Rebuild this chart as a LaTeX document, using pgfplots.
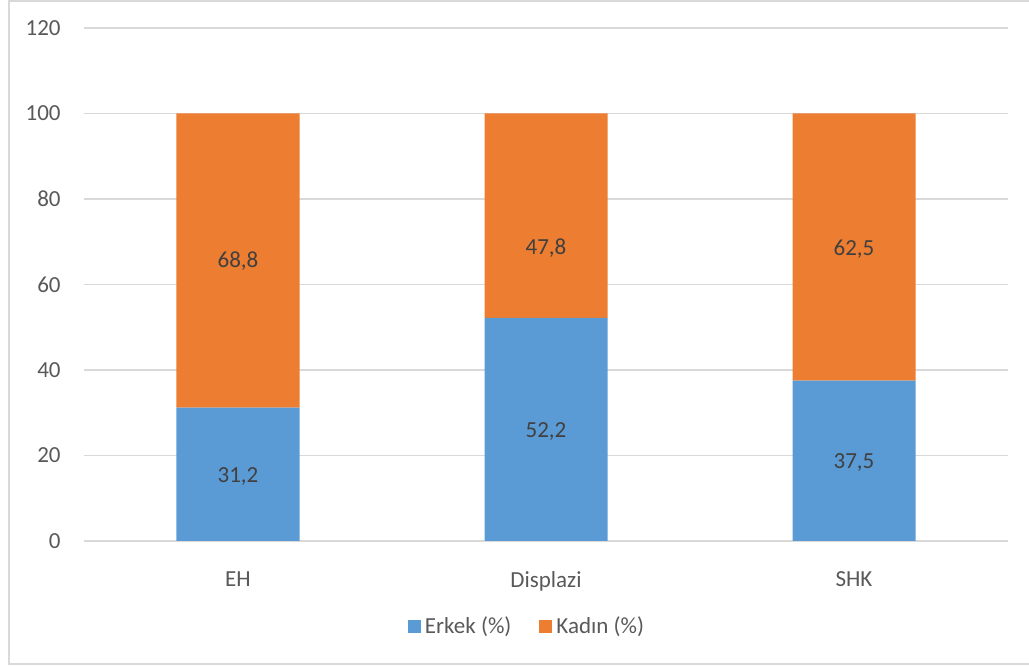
\documentclass[border=0pt]{standalone}
\usepackage{fontspec}
\setmainfont{Carlito}
\usepackage{pgfplots}
\usepackage{pgfplotstable}
\pgfplotsset{compat=1.18}
\definecolor{erkek}{HTML}{5B9BD5}
\definecolor{kadin}{HTML}{ED7D31}
\definecolor{gridc}{HTML}{D9D9D9}
\definecolor{tickc}{HTML}{595959}
\definecolor{labc}{HTML}{404040}
% x: category index, y: share in percent, dy: vertical nudge of the value label (pt)
\pgfplotstableread{
x y    dy
0 31.2 -1
1 52.2 -1
2 37.5 -1
}\erkektab
\pgfplotstableread{
x y    dy
0 68.8 -0.5
1 47.8 -16
2 62.5 -1
}\kadintab
\begin{document}
\fontsize{11.5}{14}\selectfont
\begin{tikzpicture}
\path[use as bounding box] (0,0) rectangle (514.5pt,333.5pt);
% chart frame
\draw[gridc, line width=1pt] (600pt,333pt) -- (4.5pt,333pt) -- (4.5pt,1.5pt) -- (600pt,1.5pt);
\begin{axis}[
  at={(42pt,63pt)}, anchor=south west,
  scale only axis, width=462pt, height=256.5pt,
  ybar stacked, bar width=61.5pt,
  xmin=-0.5, xmax=2.5, ymin=0, ymax=120,
  xtick=data, xticklabels={EH, Displazi, SHK},
  ytick={0,20,...,120},
  axis line style={draw=none},
  major tick length=0pt,
  ymajorgrids, grid style={gridc, line width=0.75pt},
  tick label style={font=\fontsize{11.5}{14}\selectfont, text=tickc, inner sep=0pt},
  yticklabel style={anchor=east, xshift=-11.5pt},
  xticklabel style={anchor=north, yshift=-15pt},
  /pgf/number format/assume math mode=true,
  point meta=rawy,
  visualization depends on=\thisrow{dy} \as \dy,
  nodes near coords={\pgfmathprintnumber[use comma, fixed, precision=1, fixed zerofill, assume math mode=true]{\pgfplotspointmeta}},
  every node near coord/.append style={anchor=center, text=labc, font=\fontsize{11.5}{14}\selectfont, yshift=\dy pt},
  legend style={at={(0.5,-0.1676)}, anchor=center, xshift=-9pt, draw=none, fill=none, inner sep=0pt,
    font=\fontsize{11.5}{14}\selectfont, text=tickc,
    /tikz/every even column/.append style={column sep=12pt}},
  legend columns=2, legend cell align=left,
  legend image code/.code={\fill[#1] (-1.5pt,-3.25pt) rectangle (5pt,3.25pt);},
]
\addplot[fill=erkek, draw=none] table[x=x, y=y] {\erkektab};
\addplot[fill=kadin, draw=none] table[x=x, y=y] {\kadintab};
\legend{Erkek (\%), Kadın (\%)}
\end{axis}
\end{tikzpicture}
\end{document}
